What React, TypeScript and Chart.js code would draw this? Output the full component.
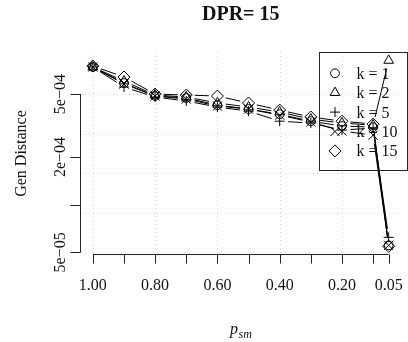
import { useEffect, useRef } from "react";
import { Chart, registerables } from "chart.js";
import { drawPoint } from "chart.js/helpers";
Chart.register(...registerables);

const pSm = [1.0, 0.9, 0.8, 0.7, 0.6, 0.5, 0.4, 0.3, 0.2, 0.1, 0.05];
const k1 = [7.41e-4, 5.87e-4, 4.86e-4, 4.72e-4, 4.26e-4, 4.02e-4, 3.73e-4, 3.37e-4, 3.14e-4, 3.09e-4, 5.54e-5];
const k2 = [7.41e-4, 6.04e-4, 4.93e-4, 4.79e-4, 4.39e-4, 4.14e-4, 3.85e-4, 3.47e-4, 3.28e-4, 3.18e-4, 8.15e-4];
const k5 = [7.41e-4, 5.54e-4, 4.79e-4, 4.52e-4, 4.14e-4, 3.9e-4, 3.37e-4, 3.28e-4, 2.96e-4, 3.05e-4, 6.22e-5];
const k10 = [7.41e-4, 5.79e-4, 4.86e-4, 4.65e-4, 4.2e-4, 4.02e-4, 3.68e-4, 3.33e-4, 2.92e-4, 2.75e-4, 5.54e-5];
const k15 = [7.52e-4, 6.41e-4, 5.0e-4, 4.93e-4, 4.86e-4, 4.39e-4, 3.96e-4, 3.58e-4, 3.37e-4, 3.23e-4, 5.46e-5];

const seriesLabels = ["k = 1", "k = 2", "k = 5", "k = 10", "k = 15"];
const seriesValues = [k1, k2, k5, k10, k15];
const seriesStyles = ["circle", "triangle", "cross", "crossRot", "rectRot"];
const seriesRadius = [4.4, 5.6, 5, 6.5, 6];

const xTickValues = [1.0, 0.9, 0.8, 0.7, 0.6, 0.5, 0.4, 0.3, 0.2, 0.1, 0.05];
const xLabelValues = [1.0, 0.8, 0.6, 0.4, 0.2, 0.05];
const xLabels = ["1.00", "0.80", "0.60", "0.40", "0.20", "0.05"];
const yTickValues = [5e-5, 1e-4, 2e-4, 5e-4];
const yLabels = ["5e\u221205", "", "2e\u221204", "5e\u221204"];
const xGrid = [1.0, 0.8, 0.6, 0.4, 0.2];
const yGrid = [5e-5, 8.891e-5, 1.581e-4, 2.812e-4, 5e-4];

const TITLE = "DPR= 15";
const Y_TITLE = "Gen Distance";
const SERIF = '"Liberation Serif", "DejaVu Serif", serif';
const GAP = 8.5;

const rPlugin = {
  id: "rstyle",
  beforeDatasetsDraw(chart: any) {
    const { ctx, chartArea: a, scales } = chart;
    const x = scales.x, y = scales.y;
    ctx.save();
    ctx.strokeStyle = "#d3d3d3";
    ctx.lineWidth = 1;
    ctx.setLineDash([1, 3]);
    for (const v of xGrid) {
      const px = Math.round(x.getPixelForValue(v)) + 0.5;
      ctx.beginPath(); ctx.moveTo(px, a.top); ctx.lineTo(px, a.bottom); ctx.stroke();
    }
    for (const v of yGrid) {
      const py = Math.round(y.getPixelForValue(v)) + 0.5;
      ctx.beginPath(); ctx.moveTo(a.left, py); ctx.lineTo(a.right, py); ctx.stroke();
    }
    // R type="b" lines: segments with gaps around the points
    ctx.setLineDash([]);
    ctx.strokeStyle = "#000";
    ctx.lineWidth = 1;
    chart.data.datasets.forEach((_ds: any, i: number) => {
      const pts = chart.getDatasetMeta(i).data;
      for (let j = 0; j < pts.length - 1; j++) {
        const p0 = pts[j], p1 = pts[j + 1];
        const dx = p1.x - p0.x, dy = p1.y - p0.y;
        const L = Math.hypot(dx, dy);
        if (L <= 2 * GAP) continue;
        const ux = dx / L, uy = dy / L;
        ctx.beginPath();
        ctx.moveTo(p0.x + ux * GAP, p0.y + uy * GAP);
        ctx.lineTo(p1.x - ux * GAP, p1.y - uy * GAP);
        ctx.stroke();
      }
    });
    ctx.restore();
  },
  afterDraw(chart: any) {
    const { ctx, chartArea: a, scales } = chart;
    const x = scales.x, y = scales.y;
    ctx.save();
    ctx.strokeStyle = "#222";
    ctx.fillStyle = "#111";
    ctx.lineWidth = 1;
    ctx.setLineDash([]);
    // y axis
    const ax = a.left - 0.5;
    const yTop = y.getPixelForValue(yTickValues[yTickValues.length - 1]);
    const yBot = y.getPixelForValue(yTickValues[0]);
    ctx.beginPath(); ctx.moveTo(ax, yBot); ctx.lineTo(ax, yTop); ctx.stroke();
    ctx.font = `16px ${SERIF}`;
    ctx.textAlign = "center";
    ctx.textBaseline = "alphabetic";
    yTickValues.forEach((v, i) => {
      const py = Math.round(y.getPixelForValue(v)) + 0.5;
      ctx.beginPath(); ctx.moveTo(ax, py); ctx.lineTo(ax - 10, py); ctx.stroke();
      if (yLabels[i]) {
        ctx.save();
        ctx.translate(65, y.getPixelForValue(v));
        ctx.rotate(-Math.PI / 2);
        ctx.fillText(yLabels[i], 0, 0);
        ctx.restore();
      }
    });
    // x axis
    const ay = Math.round(a.bottom) - 0.5;
    const xL = x.getPixelForValue(xTickValues[0]);
    const xR = x.getPixelForValue(xTickValues[xTickValues.length - 1]);
    ctx.beginPath(); ctx.moveTo(xL, ay); ctx.lineTo(xR, ay); ctx.stroke();
    xTickValues.forEach((v) => {
      const px = Math.round(x.getPixelForValue(v)) + 0.5;
      ctx.beginPath(); ctx.moveTo(px, ay); ctx.lineTo(px, ay + 9); ctx.stroke();
    });
    xLabelValues.forEach((v, i) => {
      ctx.fillText(xLabels[i], x.getPixelForValue(v), 290);
    });
    // axis titles
    const cx = (a.left + a.right) / 2;
    ctx.save();
    ctx.translate(25.5, (a.top + a.bottom) / 2);
    ctx.rotate(-Math.PI / 2);
    ctx.fillText(Y_TITLE, 0, 0);
    ctx.restore();
    ctx.font = `italic 16px ${SERIF}`;
    const wp = ctx.measureText("p").width;
    ctx.font = `italic 12px ${SERIF}`;
    const ws = ctx.measureText("sm").width;
    const sx = cx - (wp + ws) / 2;
    ctx.textAlign = "left";
    ctx.font = `italic 16px ${SERIF}`;
    ctx.fillText("p", sx, 334);
    ctx.font = `italic 12px ${SERIF}`;
    ctx.fillText("sm", sx + wp + 0.5, 337.5);
    // title
    ctx.textAlign = "center";
    ctx.font = `bold 20px ${SERIF}`;
    ctx.fillText(TITLE, cx, 19.5);
    // legend
    ctx.strokeStyle = "#222";
    ctx.strokeRect(319.5, 52.5, 88, 118);
    ctx.font = `16px ${SERIF}`;
    ctx.textAlign = "left";
    seriesLabels.forEach((lab, i) => {
      const ry = 73.3 + i * 19.4;
      ctx.strokeStyle = "#000";
      ctx.fillStyle = "rgba(0,0,0,0)";
      drawPoint(ctx, { pointStyle: seriesStyles[i], radius: seriesRadius[i], rotation: 0, borderWidth: 1 } as any, 335, ry);
      ctx.fillStyle = "#111";
      ctx.fillText(lab, 356.5, ry + 5.5);
    });
    ctx.restore();
  },
};

export default function App() {
  const ref = useRef<HTMLCanvasElement | null>(null);
  useEffect(() => {
    if (!ref.current) return;
    const datasets = seriesLabels.map((lab, i) => ({
      label: lab,
      data: pSm.map((p, j) => ({ x: p, y: seriesValues[i][j] })),
      borderColor: "#000",
      borderWidth: 1,
      showLine: false,
      pointStyle: seriesStyles[i],
      pointRadius: seriesRadius[i],
      pointBorderColor: "#000",
      pointBackgroundColor: "rgba(0,0,0,0)",
      pointBorderWidth: 1,
      fill: false,
      tension: 0,
      clip: false,
    }));
    const chart = new Chart(ref.current, {
      type: "line",
      data: { datasets },
      options: {
        animation: false,
        responsive: false,
        events: [],
        layout: { padding: { left: 81, right: 1, top: 52, bottom: 87 } },
        scales: {
          x: { type: "linear", reverse: true, min: 0.012, max: 1.038, bounds: "data", display: false },
          y: { type: "logarithmic", min: 4.81e-5, max: 9.22e-4, bounds: "data", display: false },
        },
        plugins: { legend: { display: false }, tooltip: { enabled: false }, title: { display: false } },
      } as any,
      plugins: [rPlugin],
    });
    return () => chart.destroy();
  }, []);
  return (
    <div style={{ position: "fixed", left: 0, top: 0, width: 408, height: 342, background: "#fff" }}>
      <canvas ref={ref} width={408} height={342} style={{ display: "block", width: 408, height: 342 }} />
    </div>
  );
}
